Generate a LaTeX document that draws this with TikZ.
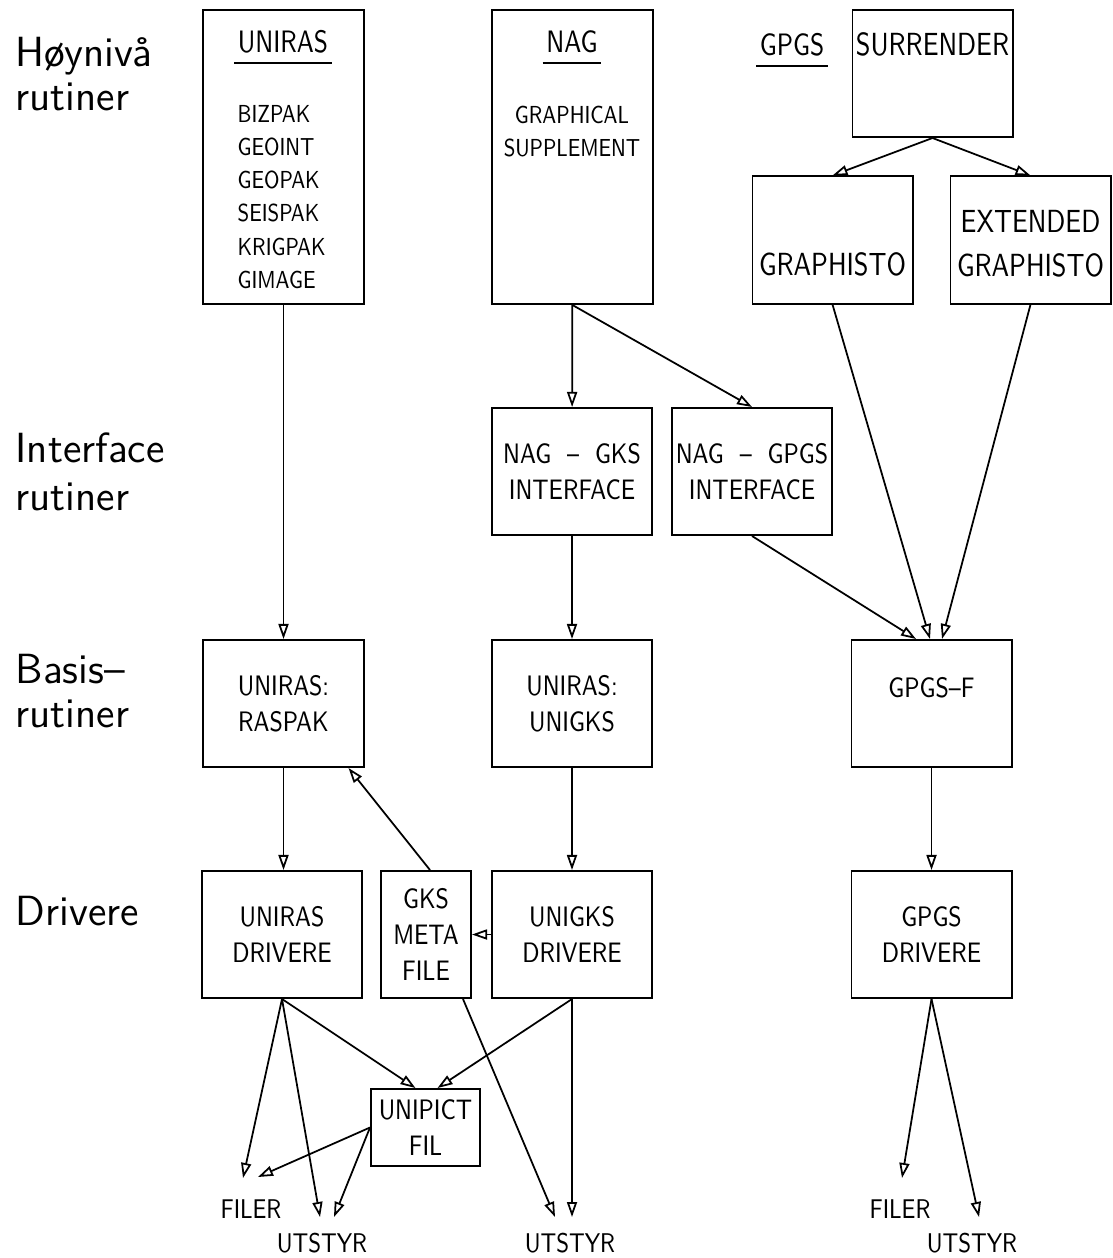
\documentclass[tikz,border=0pt]{standalone}
\usepackage{fontspec}
\setsansfont{Latin Modern Sans}
\newfontfamily\plotfont[FakeStretch=0.8, Ligatures=TeX]{Latin Modern Sans}
\usetikzlibrary{arrows.meta, calc}

\begin{document}
\begin{tikzpicture}[
    x=0.01cm, y=-0.01cm,
    box/.style={rectangle, draw=black, line width=0.55pt, inner sep=0pt, minimum width=1.6cm, minimum height=1.27cm, align=center, font=\plotfont\fontsize{8}{10.2}\selectfont},
    tallbox/.style={box, minimum height=2.94cm},
    txt/.style={inner sep=0pt, align=center, font=\plotfont\fontsize{8}{10.2}\selectfont},
    bigtxt/.style={txt, font=\plotfont\fontsize{9.1}{12.5}\selectfont},
    title/.style={txt, font=\plotfont\fontsize{8.8}{10}\selectfont},
    list/.style={txt, align=left, font=\plotfont\fontsize{7}{9.4}\selectfont},
    level/.style={inner sep=0pt, anchor=west, align=left, font=\sffamily\fontsize{12}{12.5}\selectfont},
    outtxt/.style={txt, font=\plotfont\fontsize{7.7}{9}\selectfont},
    arr/.style={-{Triangle[open, length=1.5mm, width=1.0mm]}, line width=0.5pt},
]
\useasboundingbox (0,0) rectangle (1112,1258);

% Levels
\node[level] (hoy) at (15,74) {Høynivå\\rutiner};
\node[level] (interf) at (15,472) {Interface\\[1pt]rutiner};
\node[level] (basis) at (15,691) {Basis--\\rutiner};
\node[level] (driv) at (15,911.5) {Drivere};

% Top level routines
\node[tallbox] (uniras) at (283.5,157) {};
\node[title] (unirastitle) at (283,42) {UNIRAS};
\node[list, anchor=west] (unirasliste) at (237,197) {BIZPAK\\GEOINT\\GEOPAK\\SEISPAK\\KRIGPAK\\GIMAGE};

\node[tallbox] (nag) at (572.5,157) {};
\node[title] (nagtitle) at (572,42) {NAG};
\node[list, align=center] (nagliste) at (572,131.5) {GRAPHICAL\\SUPPLEMENT};

\node[title] (gpgstitle) at (792,45) {GPGS};
\node[box] (surrender) at (932.5,73.5) {};
\node[bigtxt] (surrendertxt) at (932.5,44) {SURRENDER};
\node[box] (graphisto) at (832.5,240) {};
\node[bigtxt] (graphistotxt) at (832.5,264.5) {GRAPHISTO};
\node[box] (extgraphisto) at (1030.5,240) {};
\node[bigtxt] (extgraphistotxt) at (1030.5,243.5) {EXTENDED\\GRAPHISTO};

\foreach \t in {unirastitle, nagtitle, gpgstitle}
  \draw[line width=0.45pt] ($(\t.south west)+(-3,9)$) -- ($(\t.south east)+(3,9)$);

% Interfaces
\node[box] (naggks) at (572,471.5) {NAG\ \ --\ \ GKS\\INTERFACE};
\node[box] (naggpgs) at (752,471.5) {NAG\ \ --\ \ GPGS\\INTERFACE};

% Basis
\node[box] (raspak) at (283.5,703.5) {UNIRAS:\\RASPAK};
\node[box] (unigks) at (572,703.5) {UNIRAS:\\UNIGKS};
\node[box] (gpgsf) at (931.5,703.5) {};
\node[txt] (gpgsftxt) at (931.5,688) {GPGS--F};

% Drivers
\node[box] (unirasdrv) at (282,934.5) {UNIRAS\\DRIVERE};
\node[box, minimum width=0.9cm] (gksmeta) at (426,934.5) {GKS\\META\\FILE};
\node[box] (unigksdrv) at (572,934.5) {UNIGKS\\DRIVERE};
\node[box] (gpgsdrv) at (931.5,934.5) {GPGS\\DRIVERE};
\node[box, minimum width=1.09cm, minimum height=0.77cm] (unipict) at (425.5,1127.5) {UNIPICT\\FIL};

% Outputs
\node[outtxt] (filera) at (251,1209) {FILER};
\node[outtxt] (utstyra) at (322,1243) {UTSTYR};
\node[outtxt] (utstyrb) at (570,1243) {UTSTYR};
\node[outtxt] (filerb) at (900,1209) {FILER};
\node[outtxt] (utstyrc) at (972,1243) {UTSTYR};

\coordinate (fila) at (243,1178);
\coordinate (filb) at (258,1177);
\coordinate (utsa) at (320,1217);
\coordinate (utsb) at (334,1217);
\coordinate (utsc) at (555,1217);
\coordinate (utsd) at (572,1217);
\coordinate (filc) at (902,1178);
\coordinate (utse) at (979,1217);

% Edges
\draw[arr] (uniras) -- (raspak);
\draw[arr] (nag) -- (naggks);
\draw[arr] (nag.south) -- (naggpgs.north);
\draw[arr] (surrender.south) -- (graphisto.north);
\draw[arr] (surrender.south) -- (extgraphisto.north);
\draw[arr] (graphisto.south) -- ($(gpgsf.north)+(-1.5,0)$);
\draw[arr] (extgraphisto.south) -- ($(gpgsf.north)+(10.5,0)$);
\draw[arr] (naggpgs.south) -- ($(gpgsf.north)+(-15.5,0)$);
\draw[arr] (naggks) -- (unigks);
\draw[arr] (raspak.south) -- (raspak.south |- unirasdrv.north);
\draw[arr] ($(gksmeta.north)+(4,0)$) -- ($(raspak.south east)+(-16,0)$);
\draw[arr] (unigks) -- (unigksdrv);
\draw[arr] (unigksdrv) -- (gksmeta);
\draw[arr] (gpgsf) -- (gpgsdrv);

\draw[arr] (unirasdrv.south) -- (fila);
\draw[arr] (unirasdrv.south) -- (utsa);
\draw[arr] (unirasdrv.south) -- ($(unipict.north)+(-10,0)$);
\draw[arr] (unigksdrv.south) -- ($(unipict.north)+(12,0)$);
\draw[arr] (unipict.west) -- (filb);
\draw[arr] (unipict.west) -- (utsb);
\draw[arr] ($(gksmeta.south east)+(-9,0)$) -- (utsc);
\draw[arr] (unigksdrv.south) -- (utsd);
\draw[arr] (gpgsdrv.south) -- (filc);
\draw[arr] (gpgsdrv.south) -- (utse);

\end{tikzpicture}
\end{document}
